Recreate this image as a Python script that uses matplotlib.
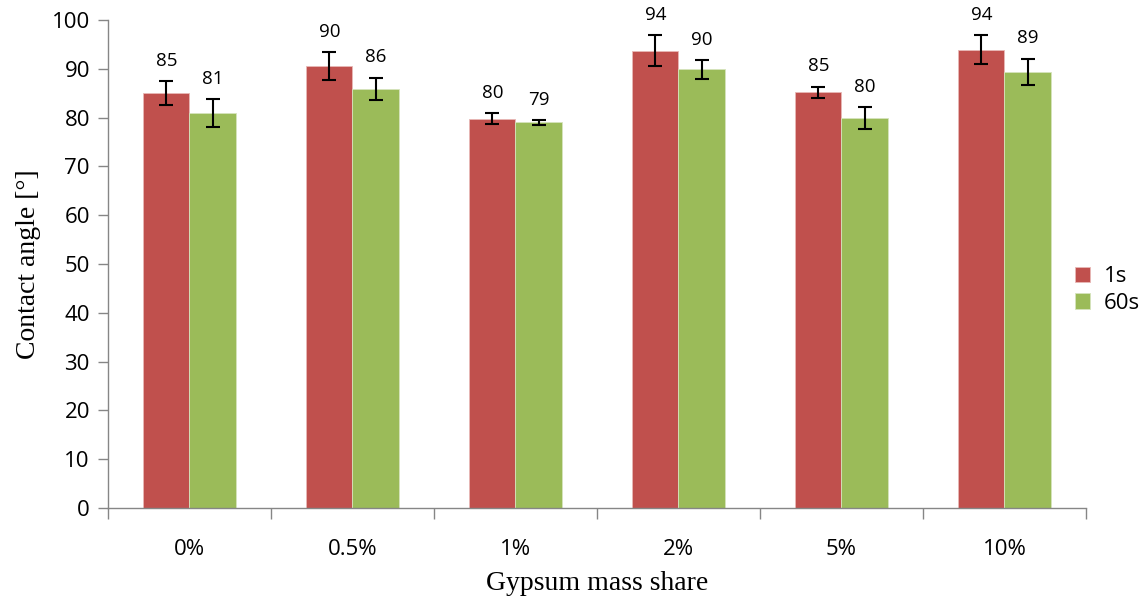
import numpy as np
import matplotlib.pyplot as plt

categories = ['0%', '0.5%', '1%', '2%', '5%', '10%']
angle_1s = [85.0, 90.5, 79.8, 93.7, 85.2, 93.9]
angle_60s = [81.0, 85.9, 79.0, 89.9, 79.9, 89.4]
err_1s = [2.5, 2.85, 1.1, 3.15, 1.15, 2.95]
err_60s = [2.85, 2.3, 0.5, 1.95, 2.3, 2.7]
labels_1s = ['85', '90', '80', '94', '85', '94']
labels_60s = ['81', '86', '79', '90', '80', '89']

red = '#C0504D'
green = '#9BBB59'
axis_grey = '#868686'

fig = plt.figure(figsize=(11.46, 5.97), dpi=100)
ax = fig.add_axes([0.0942, 0.149, 0.8534, 0.8175])

x = np.arange(len(categories))
w = 0.283

ax.bar(x - w / 2, angle_1s, w, color=red, edgecolor='#e8b8b6', linewidth=0.6, label='1s', zorder=2)
ax.bar(x + w / 2, angle_60s, w, color=green, edgecolor='#d6e4bd', linewidth=0.6, label='60s', zorder=2)
ax.errorbar(x - w / 2, angle_1s, yerr=err_1s, fmt='none', ecolor='black', elinewidth=1.5, capsize=5, capthick=1.5, zorder=3)
ax.errorbar(x + w / 2, angle_60s, yerr=err_60s, fmt='none', ecolor='black', elinewidth=1.5, capsize=5, capthick=1.5, zorder=3)

for i in range(len(categories)):
    ax.text(x[i] - w / 2, angle_1s[i] + err_1s[i] + 2.3, labels_1s[i], ha='center', va='bottom',
            fontsize=13.5, family='Open Sans')
    ax.text(x[i] + w / 2, angle_60s[i] + err_60s[i] + 2.3, labels_60s[i], ha='center', va='bottom',
            fontsize=13.5, family='Open Sans')

ax.set_xlim(-0.5, len(categories) - 0.5)
ax.set_ylim(0, 100)
ax.set_yticks(np.arange(0, 101, 10))
ax.set_xticks(x)
ax.set_xticklabels(categories)
ax.set_xticks(np.arange(-0.5, len(categories), 1), minor=True)
ax.tick_params(axis='x', which='major', length=0, pad=22)
ax.tick_params(axis='x', which='minor', length=8, color=axis_grey, width=1)
ax.tick_params(axis='y', length=7, color=axis_grey, width=1, pad=6)
for lab in ax.get_xticklabels() + ax.get_yticklabels():
    lab.set_fontfamily('Open Sans')
    lab.set_fontsize(16)

for s in ['top', 'right']:
    ax.spines[s].set_visible(False)
for s in ['left', 'bottom']:
    ax.spines[s].set_color(axis_grey)
    ax.spines[s].set_linewidth(1)

ax.set_ylabel('Contact angle [°]', family='Liberation Serif', fontsize=20, labelpad=8)
ax.set_xlabel('Gypsum mass share', family='Liberation Serif', fontsize=20, labelpad=8)

leg = ax.legend(loc='center left', bbox_to_anchor=(0.968, 0.447), frameon=False,
                prop={'family': 'Open Sans', 'size': 16}, handlelength=0.7, handleheight=0.7,
                labelspacing=0.25, handletextpad=0.6)

plt.savefig('out.png', dpi=100)
